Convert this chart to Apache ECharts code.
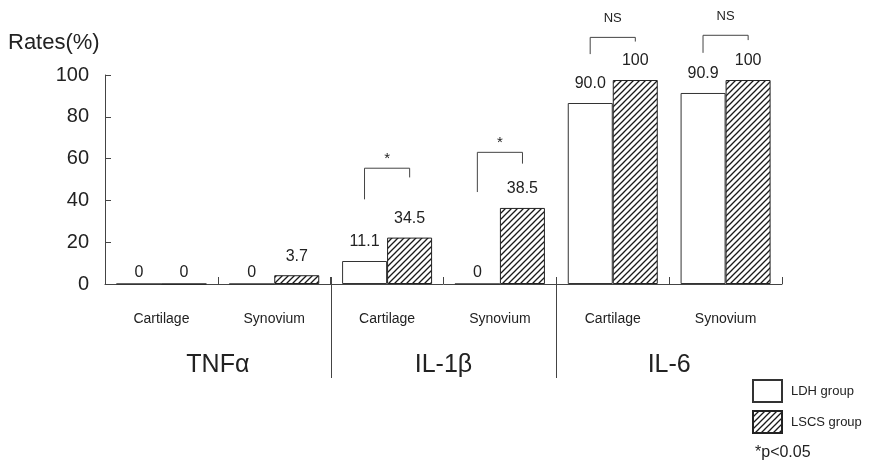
<!DOCTYPE html>
<html><head><meta charset="utf-8">
<script src="https://cdn.jsdelivr.net/npm/echarts@6/dist/echarts.min.js"></script>
<style>html,body{margin:0;padding:0;background:#fff}#c{width:871px;height:462px}</style>
</head><body><div id="c"></div>
<script>
const subCategories = ['Cartilage', 'Synovium', 'Cartilage', 'Synovium', 'Cartilage', 'Synovium'];
const groups = ['TNFα', 'IL-1β', 'IL-6'];
const seriesNames = ['LDH group', 'LSCS group'];
// bar heights as drawn in the picture
const ldhValues = [0, 0, 11, 0, 86.6, 91.4];
const lscsValues = [0, 4.2, 22.2, 36.4, 97.6, 97.6];
// printed value labels
const ldhLabels = ['0', '0', '11.1', '0', '90.0', '90.9'];
const lscsLabels = ['0', '3.7', '34.5', '38.5', '100', '100'];
const yTicks = [0, 20, 40, 60, 80, 100];
// significance brackets: [category index, left leg bottom, top, right leg bottom]
const bracketValues = [[2, 40.5, 55.4, 51], [3, 44, 63, 57.6], [4, 110, 118, 116], [5, 110.6, 119, 116.7]];
const bracketTexts = ['*', '*', 'NS', 'NS'];
// group separators at the left boundary of these categories
const separatorIndex = [2, 4];

const FONT = 'Liberation Sans, Arial, sans-serif';
function hatch() {
  const s = 6;
  const c = document.createElement('canvas');
  c.width = s; c.height = s;
  const g = c.getContext('2d');
  g.fillStyle = '#fff'; g.fillRect(0, 0, s, s);
  g.strokeStyle = '#1a1a1a'; g.lineWidth = 1.3;
  g.beginPath();
  g.moveTo(0, s); g.lineTo(s, 0);
  g.moveTo(-s / 2, s / 2); g.lineTo(s / 2, -s / 2);
  g.moveTo(s / 2, s * 1.5); g.lineTo(s * 1.5, s / 2);
  g.stroke();
  return c;
}
function barData(vals) {
  return vals.map(v => ({ value: v, label: { distance: v === 0 ? 3 : 11 } }));
}
const chart = echarts.init(document.getElementById('c'), null, { renderer: 'canvas' });
chart.setOption({
  animation: false,
  backgroundColor: '#fff',
  textStyle: { fontFamily: FONT },
  title: [
    { text: 'Rates(%)', left: 3, top: 27, textStyle: { fontSize: 22, fontWeight: 'normal', color: '#222', fontFamily: FONT } },
    { text: '*p<0.05', left: 750, top: 440, textStyle: { fontSize: 16, fontWeight: 'normal', color: '#222', fontFamily: FONT } }
  ],
  legend: {
    data: seriesNames, orient: 'vertical', left: 747, top: 374,
    itemWidth: 29, itemHeight: 22, itemGap: 7, icon: 'rect',
    textStyle: { fontSize: 13, color: '#222', fontFamily: FONT, padding: [0, 0, 0, 4] }
  },
  grid: { left: 105, right: 89, top: 75, bottom: 178, containLabel: false },
  xAxis: [
    {
      type: 'category', data: subCategories, boundaryGap: true,
      axisLine: { show: true, lineStyle: { color: '#444', width: 1 } },
      axisTick: { show: true, inside: true, length: 7, interval: 0, alignWithLabel: false, lineStyle: { color: '#444', width: 1 } },
      axisLabel: { interval: 0, margin: 28, fontSize: 14, color: '#222', fontFamily: FONT },
      splitLine: { show: false }
    },
    {
      type: 'category', data: groups, position: 'bottom', boundaryGap: true,
      axisLine: { show: false }, axisTick: { show: false }, splitLine: { show: false },
      axisLabel: { interval: 0, margin: 69, fontSize: 25, color: '#222', fontFamily: FONT }
    }
  ],
  yAxis: {
    type: 'value', min: yTicks[0], max: yTicks[yTicks.length - 1], interval: yTicks[1] - yTicks[0],
    axisLine: { show: true, lineStyle: { color: '#444' } },
    axisTick: { show: true, inside: true, length: 6, lineStyle: { color: '#444' } },
    splitLine: { show: false },
    axisLabel: { fontSize: 20, color: '#222', margin: 16, fontFamily: FONT }
  },
  series: [
    {
      name: seriesNames[0], type: 'bar', data: barData(ldhValues), barWidth: 45, barGap: '0%',
      itemStyle: { color: '#fff', borderColor: '#333', borderWidth: 1 },
      label: { show: true, position: 'top', fontSize: 16, color: '#222', fontFamily: FONT,
        formatter: p => ldhLabels[p.dataIndex] }
    },
    {
      name: seriesNames[1], type: 'bar', data: barData(lscsValues), barWidth: 45, barGap: '0%',
      itemStyle: { color: { image: hatch(), repeat: 'repeat' }, borderColor: '#222', borderWidth: 1 },
      label: { show: true, position: 'top', fontSize: 16, color: '#222', fontFamily: FONT,
        formatter: p => lscsLabels[p.dataIndex] }
    },
    {
      type: 'custom', silent: true, clip: false, z: 5,
      data: bracketValues,
      renderItem: function (params, api) {
        const idx = api.value(0);
        const c = api.coord([idx, 0]);
        const band = api.size([1, 0])[0];
        const xl = c[0] - band * 0.2, xr = c[0] + band * 0.2;
        const yl = api.coord([idx, api.value(1)])[1];
        const yt = api.coord([idx, api.value(2)])[1];
        const yr = api.coord([idx, api.value(3)])[1];
        const txt = bracketTexts[params.dataIndex];
        return {
          type: 'group', children: [
            { type: 'polyline', shape: { points: [[xl, yl], [xl, yt], [xr, yt], [xr, yr]] },
              style: { stroke: '#444', lineWidth: 1, fill: null } },
            { type: 'text', x: (xl + xr) / 2, y: yt - (txt === '*' ? 2 : 12),
              style: { text: txt, fill: '#222', font: (txt === '*' ? '15px ' : '13px ') + FONT,
                textAlign: 'center', textVerticalAlign: 'bottom' } }
          ]
        };
      }
    },
    {
      type: 'custom', silent: true, clip: false, z: 5,
      data: separatorIndex.map(i => [i, 0]),
      renderItem: function (params, api) {
        const idx = api.value(0);
        const c = api.coord([idx, 0]);
        const band = api.size([1, 0])[0];
        const x = Math.round(c[0] - band / 2) + 0.5;
        return { type: 'line', shape: { x1: x, y1: c[1] - 7, x2: x, y2: c[1] + 94 },
          style: { stroke: '#444', lineWidth: 1 } };
      }
    }
  ]
});
</script></body></html>
